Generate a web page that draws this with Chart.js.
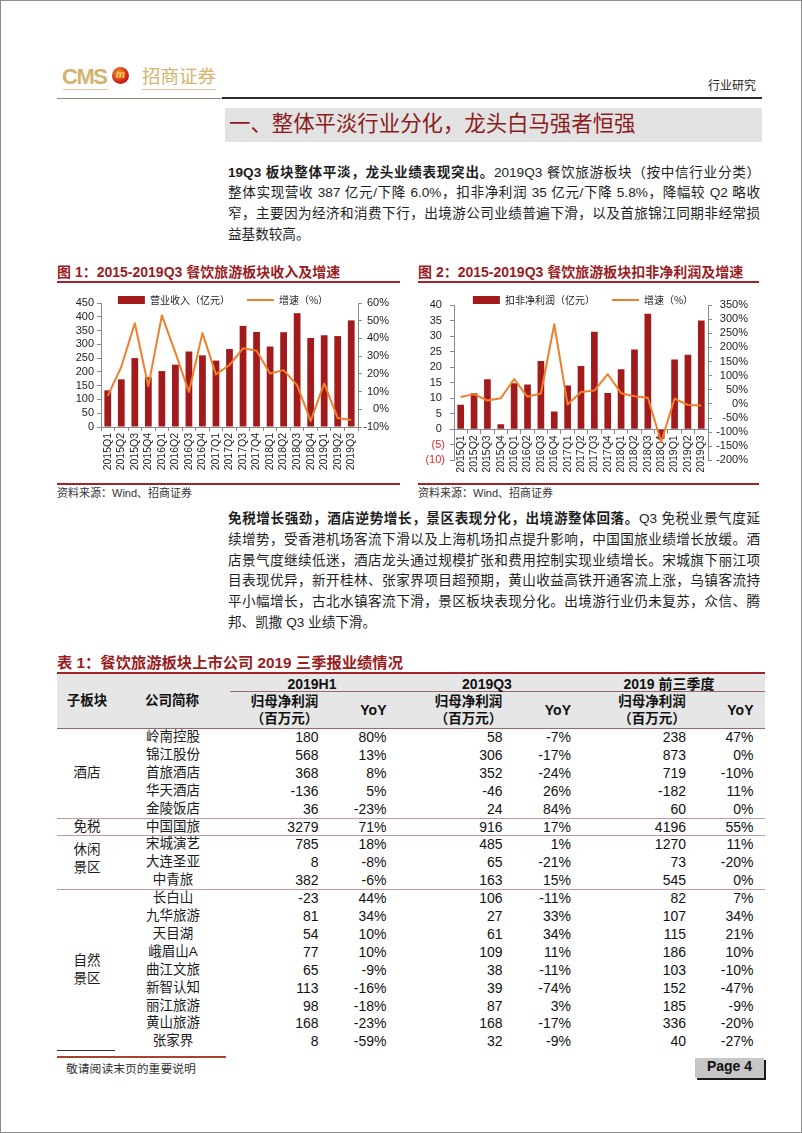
<!DOCTYPE html>
<html><head><meta charset="utf-8">
<script src="https://cdn.jsdelivr.net/npm/chart.js@4.4.1/dist/chart.umd.min.js"></script>
<style>
html,body{margin:0;padding:0;background:#fff;}
#page{position:relative;width:802px;height:1133px;overflow:hidden;background:#fff;font-family:"Liberation Sans","Noto Sans CJK SC",sans-serif;color:#1e1e1e;}
.abs{position:absolute;white-space:nowrap;}
.frame{position:absolute;left:0;top:0;width:800px;height:1131px;border:1px solid #8a8a8a;}
.para{position:absolute;left:228px;width:532px;font-size:13.6px;color:#1e1e1e;}
.para div{height:20.7px;line-height:20.7px;text-align:justify;text-align-last:justify;}
.para div.last{text-align:left;text-align-last:left;}
.ttl{font-weight:bold;font-size:14px;color:#9a1c1e;line-height:20px;}
.rl{position:absolute;height:2px;background:#a3232a;}
.src{font-size:11px;color:#333;line-height:14px;}
canvas{position:absolute;}
</style>
</head><body>
<div id="page">
  <div class="frame"></div>

  <!-- header -->
  <div class="abs" style="left:62px;top:64px;font:bold 22px 'Liberation Sans';letter-spacing:-1.5px;color:#d4b36e;line-height:26px;">CMS</div>
  <div class="abs" style="left:112px;top:67px;width:17px;height:17px;border-radius:50%;background:radial-gradient(circle at 40% 35%,#f39a34,#c81e14 65%,#8c1010);"></div>
  <div class="abs" style="left:112px;top:67px;width:17px;height:17px;line-height:17px;text-align:center;font:italic bold 12px 'Liberation Serif';color:#f8cc52;">m</div>
  <div class="abs" style="left:142px;top:64px;font-size:18.5px;line-height:26px;color:#d4b36e;">招商证券</div>
  <div class="abs" style="left:63px;top:89px;width:45px;height:1px;background:#e0c994;"></div>
  <div class="abs" style="left:142px;top:89px;width:74px;height:1px;background:#e0c994;"></div>
  <div class="abs" style="left:708px;top:78px;font-size:12px;line-height:16px;color:#222;">行业研究</div>
  <div class="abs" style="left:57px;top:98px;width:165px;height:1px;background:#a08474;"></div>
  <div class="abs" style="left:222px;top:97px;width:540px;height:2px;background:#2a2a2a;"></div>

  <!-- section title -->
  <div class="abs" style="left:225px;top:108px;width:537px;height:34px;background:#e2e2e2;"></div>
  <div class="abs" style="left:229px;top:111px;font-size:21.4px;line-height:26px;color:#8c1b1d;">一、整体平淡行业分化，龙头白马强者恒强</div>

  <!-- paragraph 1 -->
  <div class="para" style="top:162.6px;">
    <div><b>19Q3 板块整体平淡，龙头业绩表现突出。</b>2019Q3 餐饮旅游板块（按中信行业分类）</div>
    <div>整体实现营收 387 亿元/下降 6.0%，扣非净利润 35 亿元/下降 5.8%，降幅较 Q2 略收</div>
    <div>窄，主要因为经济和消费下行，出境游公司业绩普遍下滑，以及首旅锦江同期非经常损</div>
    <div class="last">益基数较高。</div>
  </div>

  <!-- figure titles -->
  <div class="abs ttl" style="left:57px;top:261.5px;">图 1：2015-2019Q3 餐饮旅游板块收入及增速</div>
  <div class="abs ttl" style="left:418px;top:261.5px;">图 2：2015-2019Q3 餐饮旅游板块扣非净利润及增速</div>
  <div class="rl" style="left:57px;top:281px;width:343px;"></div>
  <div class="rl" style="left:418px;top:281px;width:341px;"></div>
  <div class="rl" style="left:57px;top:483px;width:343px;"></div>
  <div class="rl" style="left:418px;top:483px;width:341px;"></div>
  <div class="abs src" style="left:57px;top:486px;">资料来源：Wind、招商证券</div>
  <div class="abs src" style="left:418px;top:486px;">资料来源：Wind、招商证券</div>

  <canvas id="c1" width="343" height="206" style="left:57px;top:266px;"></canvas>
  <canvas id="c2" width="342" height="204" style="left:418px;top:268px;"></canvas>

  <!-- paragraph 2 -->
  <div class="para" style="top:509.2px;">
    <div><b>免税增长强劲，酒店逆势增长，景区表现分化，出境游整体回落。</b>Q3 免税业景气度延</div>
    <div>续增势，受香港机场客流下滑以及上海机场扣点提升影响，中国国旅业绩增长放缓。酒</div>
    <div>店景气度继续低迷，酒店龙头通过规模扩张和费用控制实现业绩增长。宋城旗下丽江项</div>
    <div>目表现优异，新开桂林、张家界项目超预期，黄山收益高铁开通客流上涨，乌镇客流持</div>
    <div>平小幅增长，古北水镇客流下滑，景区板块表现分化。出境游行业仍未复苏，众信、腾</div>
    <div class="last">邦、凯撒 Q3 业绩下滑。</div>
  </div>

  <!-- table title -->
  <div class="abs ttl" style="left:57px;top:653px;font-size:15.3px;">表 1：餐饮旅游板块上市公司 2019 三季报业绩情况</div>

  <!-- footer -->
  <div class="abs" style="left:57px;top:1050px;width:58px;height:1px;background:#333;"></div>
  <div class="abs" style="left:57px;top:1056px;width:169px;height:1.5px;background:#a8442e;"></div>
  <div class="abs" style="left:66px;top:1061px;font-size:11.8px;line-height:16px;color:#333;">敬请阅读末页的重要说明</div>
  <div class="abs" style="left:695px;top:1058px;width:69px;height:20px;background:#c6c6c6;box-shadow:2px 2px 0 #1a1a1a;"></div>
  <div class="abs" style="left:695px;top:1058px;width:69px;height:20px;line-height:20px;text-align:center;font:bold 14px 'Liberation Sans';color:#111;">Page 4</div>
</div>

<script>
// ---------------- chart data ----------------
const quarters = ['2015Q1','2015Q2','2015Q3','2015Q4','2016Q1','2016Q2','2016Q3','2016Q4','2017Q1','2017Q2','2017Q3','2017Q4','2018Q1','2018Q2','2018Q3','2018Q4','2019Q1','2019Q2','2019Q3'];
const revenue = [133,173,250,181,203,226,274,260,241,283,367,345,292,344,413,323,333,330,387];
const revenueGrowth = [7.6,24,48.6,13,53,32,9.8,43,19.7,25,34.4,33,20.2,22.1,13.6,-6.6,14.6,-4.9,-6.0];
const profit = [7.9,11.6,16.1,1.6,14.8,14.4,22.0,5.7,14.1,20.4,31.4,11.7,19.3,25.7,37.2,-3,22.5,24.0,35.0];
const profitGrowth = [24.7,34.6,12,20,88,25,37,282,-2.5,42,47,105,38,27,22,-135,18.5,-4,-5.8];
const revenueLabel = '营业收入（亿元）';
const profitLabel = '扣非净利润（亿元）';
const growthLabel = '增速（%）';

// ---------------- table data ----------------
const companies = ['岭南控股','锦江股份','首旅酒店','华天酒店','金陵饭店','中国国旅','宋城演艺','大连圣亚','中青旅','长白山','九华旅游','天目湖','峨眉山A','曲江文旅','新智认知','丽江旅游','黄山旅游','张家界'];
const h1Profit = ['180','568','368','-136','36','3279','785','8','382','-23','81','54','77','65','113','98','168','8'];
const h1Yoy = ['80%','13%','8%','5%','-23%','71%','18%','-8%','-6%','44%','34%','10%','10%','-9%','-16%','-18%','-23%','-59%'];
const q3Profit = ['58','306','352','-46','24','916','485','65','163','106','27','61','109','38','39','87','168','32'];
const q3Yoy = ['-7%','-17%','-24%','26%','84%','17%','1%','-21%','15%','-11%','33%','34%','11%','-11%','-74%','3%','-17%','-9%'];
const m9Profit = ['238','873','719','-182','60','4196','1270','73','545','82','107','115','186','103','152','185','336','40'];
const m9Yoy = ['47%','0%','-10%','11%','0%','55%','11%','-20%','0%','7%','34%','21%','10%','-10%','-47%','-9%','-20%','-27%'];
const sectors = [{name:['酒店'],from:0,to:4},{name:['免税'],from:5,to:5},{name:['休闲','景区'],from:6,to:8},{name:['自然','景区'],from:9,to:17}];

// ---------------- table layout ----------------
const page = document.getElementById('page');
function put(html, css){ const d=document.createElement('div'); d.className='abs'; d.innerHTML=html; d.style.cssText+=css; page.appendChild(d); return d; }
const colR = [318.5,386.5,502.5,571,686,753.5];
const row0 = 737, rowH = 17.9;
put('', 'left:57px;top:673px;width:708px;height:55.5px;background:#e6e6e6;');
put('', 'left:57px;top:672px;width:708px;height:2px;background:#a3232a;');
put('', 'left:230px;top:690.5px;width:535px;height:1px;background:#9a6a6a;');
put('', 'left:57px;top:728px;width:708px;height:1px;background:#9a6a6a;');
const hb = 'font-weight:bold;color:#111;';
put('子板块', hb+'left:57px;width:60px;text-align:center;top:692px;line-height:18px;font-size:13.5px;');
put('公司简称', hb+'left:132px;width:80px;text-align:center;top:692px;line-height:18px;font-size:13.5px;');
const grpNames = ['2019H1','2019Q3','2019 前三季度'];
const grpC = [312,487,669];
for (let g=0; g<3; g++){
  put(grpNames[g], hb+`left:${grpC[g]-70}px;width:140px;text-align:center;top:675px;line-height:18px;font-size:14px;`);
  const c = colR[g*2]-34;
  put('归母净利润', hb+`left:${c-50}px;width:100px;text-align:center;top:693px;line-height:18px;font-size:13.5px;`);
  put('（百万元）', hb+`left:${c-50}px;width:100px;text-align:center;top:710px;line-height:18px;font-size:13.5px;`);
  put('YoY', hb+`left:${colR[g*2+1]-60}px;width:60px;text-align:right;top:701px;line-height:18px;font-size:14px;`);
}
const cols = [h1Profit,h1Yoy,q3Profit,q3Yoy,m9Profit,m9Yoy];
for (let i=0;i<companies.length;i++){
  const cy = row0 + i*rowH;
  put(companies[i], `left:123px;width:100px;text-align:center;top:${cy-9}px;line-height:18px;font-size:13.5px;color:#1a1a1a;`);
  for (let c=0;c<6;c++){
    put(cols[c][i], `left:${colR[c]-80}px;width:80px;text-align:right;top:${cy-9}px;line-height:18px;font-size:14px;color:#111;`);
  }
}
sectors.forEach((s, k) => {
  const cy = row0 + (s.from + s.to)/2*rowH;
  const lh = 18;
  const top = cy - s.name.length*lh/2 - (s.name.length > 1 && k === 2 ? 3 : 0);
  put(s.name.join('<br>'), `left:57px;width:60px;text-align:center;top:${top}px;line-height:${lh}px;font-size:13.5px;white-space:normal;color:#1a1a1a;`);
  if (k>0){
    const ly = row0 + (s.from - 0.5)*rowH;
    put('', `left:57px;top:${ly}px;width:708px;height:1px;background:#c29a9a;`);
  }
});

// ---------------- charts ----------------
const RED = '#a11b1d', ORANGE = '#ef7f2a', AXIS = '#8a8a8a', TXT = '#222';
const tickFont = { family: "'Liberation Sans', Arial, sans-serif", size: 11 };
const xFont = { family: "'Liberation Sans', Arial, sans-serif", size: 10.5 };
const legendFont = { family: "'Noto Sans CJK SC', 'Liberation Sans', sans-serif", size: 10 };
const gridOpts = { display:true, drawOnChartArea:false, drawTicks:true, tickLength:4, color:AXIS, lineWidth:1 };
const borderOpts = { display:true, color:AXIS, width:1 };

function legendOpts(){
  return {
    position:'top',
    labels:{
      usePointStyle:true, pointStyleWidth:27, boxHeight:8, padding:17, font:legendFont, color:TXT,
      generateLabels(chart){
        return chart.data.datasets.map((ds,i)=>({
          text: ds.label, datasetIndex:i, hidden:false, fontColor:TXT,
          fillStyle: ds.type==='line' ? ds.borderColor : ds.backgroundColor,
          strokeStyle: ds.type==='line' ? ds.borderColor : ds.backgroundColor,
          lineWidth: ds.type==='line' ? 2 : 0,
          pointStyle: ds.type==='line' ? 'line' : 'rect'
        }));
      }
    }
  };
}
const legendShift = {
  id:'legendShift',
  afterLayout(chart, args, opts){
    if (chart.legend && opts && opts.dy){ chart.legend.top += opts.dy; chart.legend.bottom += opts.dy; }
  }
};

new Chart(document.getElementById('c1'), {
  type:'bar',
  data:{ labels: quarters, datasets:[
    { type:'bar', label: revenueLabel, data: revenue, yAxisID:'y', backgroundColor: RED, barPercentage:0.5, categoryPercentage:1, order:1 },
    { type:'line', label: growthLabel, data: revenueGrowth, yAxisID:'y1', borderColor: ORANGE, backgroundColor: ORANGE, borderWidth:2, pointRadius:0, tension:0, borderJoinStyle:'round', order:0 }
  ]},
  options:{
    responsive:false, animation:false, events:[],
    layout:{ padding:{ top:0, right:11, bottom:0, left:0 } },
    plugins:{ legend: legendOpts(), tooltip:{enabled:false}, legendShift:{dy:12} },
    scales:{
      x:{ grid:gridOpts, border:borderOpts, ticks:{ minRotation:90, maxRotation:90, autoSkip:false, padding:2, font:xFont, color:TXT }, afterFit(s){ s.height = 45; } },
      y:{ position:'left', min:0, max:450, grid:gridOpts, border:borderOpts, ticks:{ stepSize:50, autoSkip:false, padding:3, font:tickFont, color:TXT }, afterFit(s){ s.width = 44; } },
      y1:{ position:'right', min:-10, max:60, grid:gridOpts, border:borderOpts, ticks:{ stepSize:10, autoSkip:false, padding:3, crossAlign:'far', font:tickFont, color:TXT, callback:v=>v+'%' }, afterFit(s){ s.width = 31; } }
    }
  },
  plugins:[legendShift]
});

new Chart(document.getElementById('c2'), {
  type:'bar',
  data:{ labels: quarters, datasets:[
    { type:'bar', label: profitLabel, data: profit, yAxisID:'y', backgroundColor: RED, barPercentage:0.5, categoryPercentage:1, order:1 },
    { type:'line', label: growthLabel, data: profitGrowth, yAxisID:'y1', borderColor: ORANGE, backgroundColor: ORANGE, borderWidth:2, pointRadius:0, tension:0, borderJoinStyle:'round', order:0 }
  ]},
  options:{
    responsive:false, animation:false, events:[],
    layout:{ padding:{ top:0, right:12, bottom:4, left:0 } },
    plugins:{ legend: legendOpts(), tooltip:{enabled:false}, legendShift:{dy:10} },
    scales:{
      x:{ position:{ y:0 }, grid:gridOpts, border:borderOpts, ticks:{ minRotation:90, maxRotation:90, autoSkip:false, padding:2, font:xFont, color:TXT }, afterFit(s){ s.height = 15; } },
      y:{ position:'left', min:-10, max:40, grid:gridOpts, border:borderOpts,
          ticks:{ stepSize:5, autoSkip:false, padding:5, font:tickFont,
                  color:c => (c.tick && c.tick.value < 0) ? '#e3262a' : TXT,
                  callback:v => v < 0 ? '(' + Math.abs(v) + ')' : v + ' ' },
          afterFit(s){ s.width = 36; } },
      y1:{ position:'right', min:-200, max:350, grid:gridOpts, border:borderOpts, ticks:{ stepSize:50, autoSkip:false, padding:3, crossAlign:'far', font:tickFont, color:TXT, callback:v=>v+'%' }, afterFit(s){ s.width = 40; } }
    }
  },
  plugins:[legendShift]
});
</script>
</body></html>
